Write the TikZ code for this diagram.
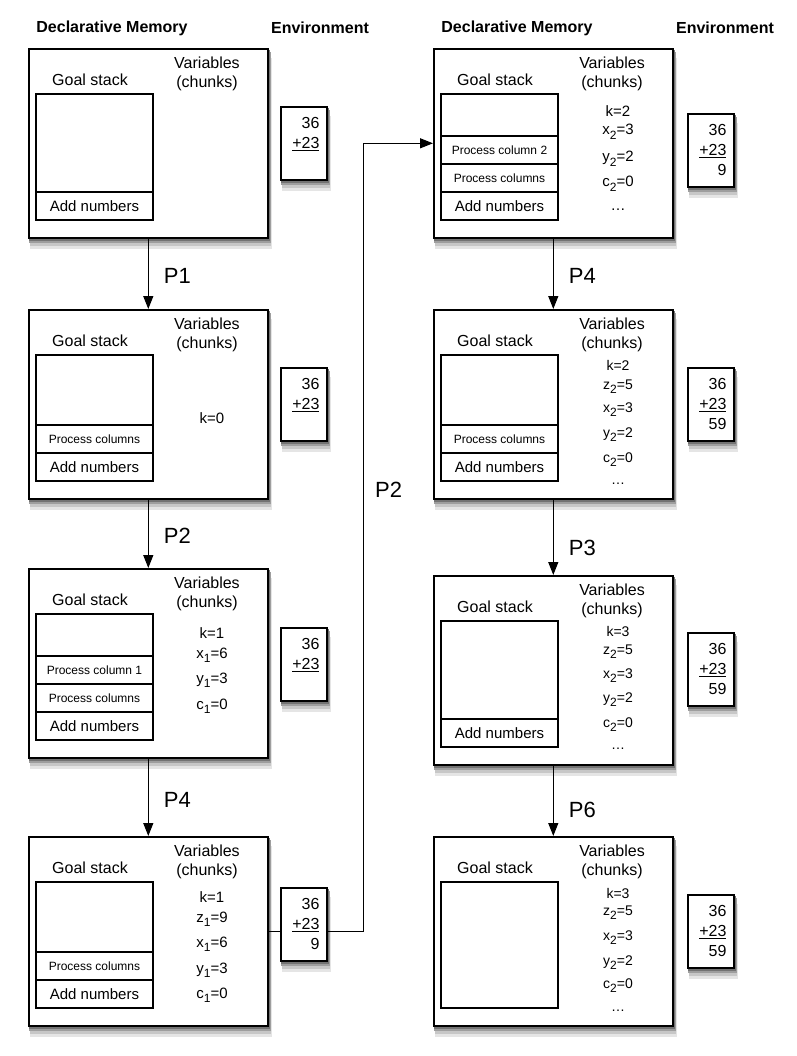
\documentclass[tikz,border=0pt]{standalone}
\usepackage{fontspec}
\setmainfont{Liberation Sans}
\usetikzlibrary{calc,arrows.meta,backgrounds}
\newcommand{\lowidx}[1]{\raisebox{-4.5pt}{\fontsize{12}{12}\selectfont#1}}

\begin{document}
\begin{tikzpicture}[x=1pt,y=-1pt,
  memory/.style={draw,line width=1.6pt,fill=white,anchor=north west,inner sep=0pt,
    minimum width=239pt,minimum height=189pt},
  env/.style={memory,minimum width=46pt,minimum height=73pt},
  stack/.style={draw,line width=1.3pt,anchor=north west,inner sep=0pt,outer sep=0pt,
    minimum width=117pt,minimum height=126pt},
  stackrow/.style={draw,line width=1.3pt,anchor=south,inner sep=0pt,outer sep=0pt,
    minimum width=117pt,minimum height=28pt,font=\fontsize{15}{18}\selectfont},
  smallrow/.style={font=\fontsize{12}{14}\selectfont},
  header/.style={font=\fontsize{16}{19}\selectfont\bfseries},
  caption/.style={align=center,inner sep=0pt,font=\fontsize{16}{19}\selectfont},
  varline/.style={anchor=base,inner sep=0pt,font=\fontsize{15}{18}\selectfont},
  rightvar/.style={font=\fontsize{14}{17}\selectfont},
  envtext/.style={anchor=north east,align=right,inner sep=0pt,font=\fontsize{16}{20}\selectfont},
  plabel/.style={anchor=west,inner sep=0pt,xshift=15pt,font=\fontsize{22}{26}\selectfont},
  flow/.style={line width=1.2pt,-{Triangle[length=13pt,width=10pt]}}]
\useasboundingbox (0,0) rectangle (796,1056);

% column headers
\node[header] (hdm1) at (112,28) {Declarative Memory};
\node[header] (hen1) at (320,28) {Environment};
\node[header] (hdm2) at (517,28) {Declarative Memory};
\node[header] (hen2) at (725,28) {Environment};

% memory boxes with their goal stacks
\foreach \n/\x/\y in {L1/28/48,L2/28/309,L3/28/568,L4/28/836,
                      R1/433/48,R2/433/309,R3/433/575,R4/433/836}{
  \node[memory] (\n) at (\x,\y) {};
  \node[stack] (\n-gs) at ($(\n.north west)+(8,46)$) {};
  \node[caption] at ($(\n.north west)+(62,32)$) {Goal stack};
  \node[caption] at ($(\n.north west)+(179,26)$) {Variables\\(chunks)};
}

% stack entries
\foreach \n in {L1,L2,L3,L4,R1,R2,R3}
  \node[stackrow] (\n-a) at (\n-gs.south) {Add numbers};
\foreach \n in {L2,L3,L4,R1,R2}
  \node[stackrow,smallrow] (\n-b) at (\n-a.north) {Process columns};
\node[stackrow,smallrow] (L3-c) at (L3-b.north) {Process column 1};
\node[stackrow,smallrow] (R1-c) at (R1-b.north) {Process column 2};

% variables
\node[varline] at ($(L2.north west)+(184,114)$) {k=0};
\foreach \dy/\t in {70/k=1,90/x\lowidx{1}=6,115/y\lowidx{1}=3,141/c\lowidx{1}=0}
  \node[varline] at ($(L3.north west)+(184,\dy)$) {\t};
\foreach \dy/\t in {66/k=1,86/z\lowidx{1}=9,111/x\lowidx{1}=6,137/y\lowidx{1}=3,162/c\lowidx{1}=0}
  \node[varline] at ($(L4.north west)+(184,\dy)$) {\t};
\foreach \dy/\t in {69/k=2,87/x\lowidx{2}=3,114/y\lowidx{2}=2,139/c\lowidx{2}=0,163/\ldots}
  \node[varline] at ($(R1.north west)+(185,\dy)$) {\t};
\foreach \dy/\t in {61/k=2,80/z\lowidx{2}=5,103/x\lowidx{2}=3,128/y\lowidx{2}=2,153/c\lowidx{2}=0,175/\ldots}
  \node[varline,rightvar] at ($(R2.north west)+(185,\dy)$) {\t};
\foreach \dy/\t in {61/k=3,79/z\lowidx{2}=5,103/x\lowidx{2}=3,127/y\lowidx{2}=2,152/c\lowidx{2}=0,174/\ldots}
  \node[varline,rightvar] at ($(R3.north west)+(185,\dy)$) {\t};
\foreach \dy/\t in {62/k=3,79/z\lowidx{2}=5,104/x\lowidx{2}=3,129/y\lowidx{2}=2,152/c\lowidx{2}=0,175/\ldots}
  \node[varline,rightvar] at ($(R4.north west)+(185,\dy)$) {\t};

% environment sheets
\node[env] (L1e) at ($(L1.north west)+(252,58)$) {};
\node[envtext] at ($(L1e.north east)+(-8,11)$) {36\\\underline{+23}};
\node[env] (L2e) at ($(L2.north west)+(252,58)$) {};
\node[envtext] at ($(L2e.north east)+(-8,11)$) {36\\\underline{+23}};
\node[env] (L3e) at ($(L3.north west)+(252,59)$) {};
\node[envtext] at ($(L3e.north east)+(-8,11)$) {36\\\underline{+23}};
\node[env] (L4e) at ($(L4.north west)+(252,51)$) {};
\node[envtext] at ($(L4e.north east)+(-8,11)$) {36\\\underline{+23}\\9};
\node[env] (R1e) at ($(R1.north west)+(254,65)$) {};
\node[envtext] at ($(R1e.north east)+(-8,11)$) {36\\\underline{+23}\\9};
\node[env] (R2e) at ($(R2.north west)+(254,58)$) {};
\node[envtext] at ($(R2e.north east)+(-8,11)$) {36\\\underline{+23}\\59};
\node[env] (R3e) at ($(R3.north west)+(254,57)$) {};
\node[envtext] at ($(R3e.north east)+(-8,11)$) {36\\\underline{+23}\\59};
\node[env] (R4e) at ($(R4.north west)+(254,58)$) {};
\node[envtext] at ($(R4e.north east)+(-8,11)$) {36\\\underline{+23}\\59};

% soft shadows behind the boxes
\begin{scope}[on background layer]
\foreach \n in {L1,L2,L3,L4,R1,R2,R3,R4,L1e,L2e,L3e,L4e,R1e,R2e,R3e,R4e}{
  \fill[black!10] ($(\n.north west)+(2,10)$) rectangle ($(\n.south east)+(3,10)$);
  \fill[black!22] ($(\n.north west)+(1.5,7)$) rectangle ($(\n.south east)+(2.5,7)$);
  \fill[black!38] ($(\n.north west)+(1,4)$) rectangle ($(\n.south east)+(2,4)$);
  \fill[black!55] ($(\n.north west)+(0.5,2)$) rectangle ($(\n.south east)+(1.5,2)$);
}
\end{scope}

% productions
\draw[flow] (L1) -- node[plabel,pos=.53] {P1} (L2);
\draw[flow] (L2) -- node[plabel,pos=.53] {P2} (L3);
\draw[flow] (L3) -- node[plabel,pos=.54] {P4} (L4);
\draw[flow] (R1) -- node[plabel,pos=.53] {P4} (R2);
\draw[flow] (R2) -- node[plabel,pos=.64] {P3} (R3);
\draw[flow] (R3) -- node[plabel,pos=.63] {P6} (R4);
\draw[line width=1.2pt] (L4.east) -- (L4.east -| L4e.west);
\draw[flow] (L4.east -| L4e.east) -- ++(36,0) |- node[plabel,pos=.28,xshift=-4pt] {P2} (R1.west);
\end{tikzpicture}
\end{document}
